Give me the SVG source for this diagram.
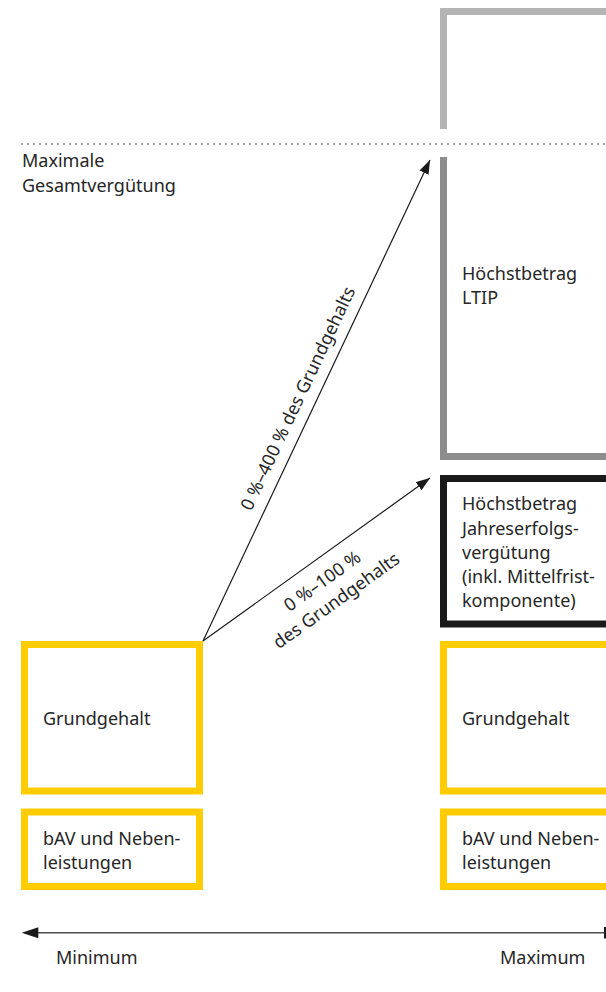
<svg xmlns="http://www.w3.org/2000/svg" width="606" height="992" viewBox="0 0 606 992">
  <defs>
    <style>
      .t { font-family: "Noto Sans", "Open Sans", "DejaVu Sans", sans-serif; font-size: 18px; fill: #262626; }
      .yb { fill: none; stroke: #ffcc00; stroke-width: 7; }
      .conn { stroke: #1a1a1a; stroke-width: 1.2; fill: none; }
    </style>
    <marker id="ah" viewBox="0 0 14 10" refX="14" refY="5" markerWidth="14" markerHeight="10" markerUnits="userSpaceOnUse" orient="auto">
      <path d="M0,0 L14,5 L0,10 Z" fill="#1a1a1a"/>
    </marker>
  </defs>
  <rect width="606" height="992" fill="#ffffff"/>

  <g id="max-line">
    <line x1="22" y1="144" x2="606" y2="144" stroke="#333333" stroke-width="1.6" stroke-linecap="round" stroke-dasharray="0 6"/>
    <text class="t" x="22" y="167">Maximale</text>
    <text class="t" x="22" y="191.5">Gesamtvergütung</text>
  </g>

  <g id="top-box">
    <path d="M443.5,129 V11.5 H620" fill="none" stroke="#b4b4b4" stroke-width="7"/>
  </g>

  <g id="ltip">
    <path d="M443.5,157 V456.5 H620" fill="none" stroke="#8c8c8c" stroke-width="7"/>
    <text class="t" x="462" y="279.5">Höchstbetrag</text>
    <text class="t" x="462" y="303.5">LTIP</text>
  </g>

  <g id="jahreserfolg">
    <rect x="443.5" y="478.5" width="180" height="145.5" fill="none" stroke="#1a1a1a" stroke-width="7"/>
    <text class="t" x="462" y="510">Höchstbetrag</text>
    <text class="t" x="462" y="534.5">Jahreserfolgs-</text>
    <text class="t" x="462" y="558.5">vergütung</text>
    <text class="t" x="462" y="582.5">(inkl. Mittelfrist-</text>
    <text class="t" x="462" y="606.5">komponente)</text>
  </g>

  <g id="grundgehalt-min">
    <rect class="yb" x="24.5" y="644.5" width="175" height="146.5"/>
    <text class="t" x="43" y="725">Grundgehalt</text>
  </g>

  <g id="bav-min">
    <rect class="yb" x="24.5" y="812" width="175" height="74.5"/>
    <text class="t" x="43" y="845">bAV und Neben-</text>
    <text class="t" x="43" y="868.5">leistungen</text>
  </g>

  <g id="grundgehalt-max">
    <rect class="yb" x="443.5" y="644.5" width="180" height="146.5"/>
    <text class="t" x="462" y="725">Grundgehalt</text>
  </g>

  <g id="bav-max">
    <rect class="yb" x="443.5" y="812" width="180" height="74.5"/>
    <text class="t" x="462" y="845">bAV und Neben-</text>
    <text class="t" x="462" y="868.5">leistungen</text>
  </g>

  <g id="connectors">
    <line class="conn" x1="203" y1="641" x2="430" y2="160" marker-end="url(#ah)"/>
    <line class="conn" x1="203" y1="641" x2="430" y2="478" marker-end="url(#ah)"/>
    <text class="t" text-anchor="middle" transform="translate(303.5,401) rotate(-64.73)">0 %–400 % des Grundgehalts</text>
    <g transform="translate(325.9,586.1) rotate(-35.68)">
      <text class="t" text-anchor="middle" x="0" y="0">0 %–100 %</text>
      <text class="t" text-anchor="middle" x="0" y="24">des Grundgehalts</text>
    </g>
  </g>

  <g id="axis">
    <line x1="36" y1="932.7" x2="605" y2="932.7" stroke="#4d4d4d" stroke-width="1.6"/>
    <path d="M21.7,932.7 L38.3,927.2 L38.3,938.2 Z" fill="#1a1a1a"/>
    <line x1="605" y1="927" x2="605" y2="938.5" stroke="#1a1a1a" stroke-width="2"/>
    <text class="t" x="56" y="964">Minimum</text>
    <text class="t" x="500" y="964">Maximum</text>
  </g>
</svg>
